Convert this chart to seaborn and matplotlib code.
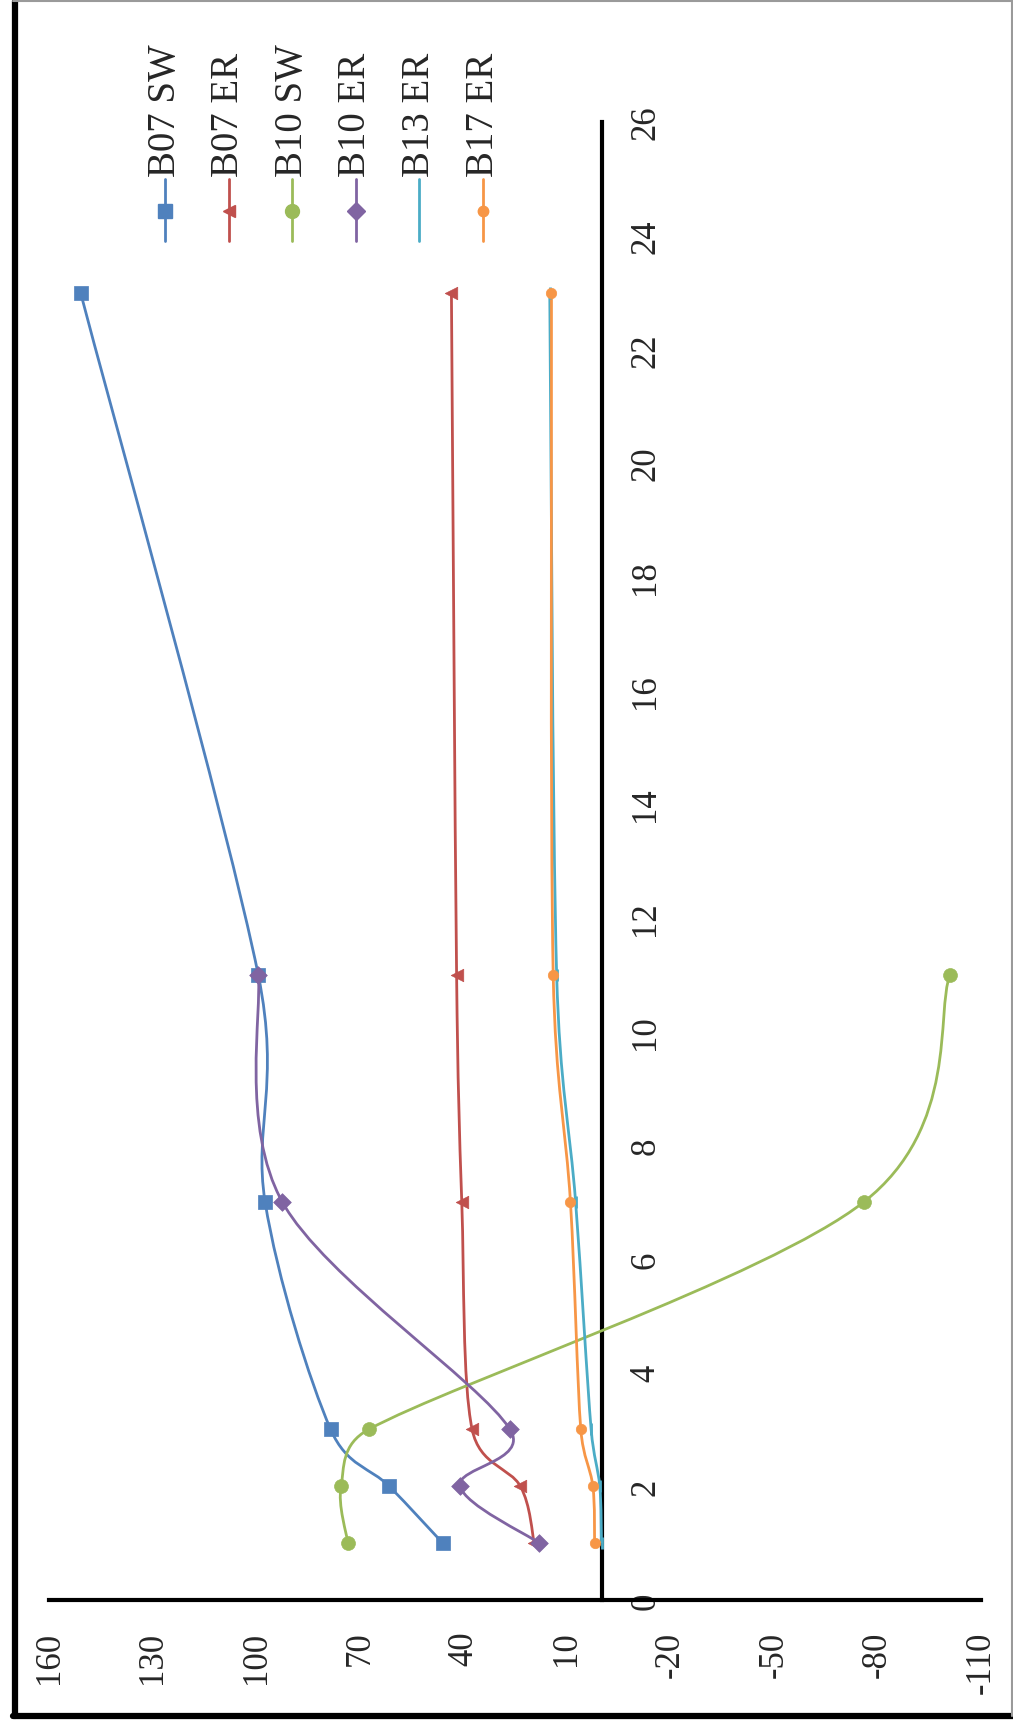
import numpy as np
import pandas as pd
import matplotlib
matplotlib.use('Agg')
import matplotlib.pyplot as plt
import seaborn as sns
from matplotlib.path import Path
from matplotlib.patches import PathPatch
from matplotlib.lines import Line2D

# chart is drawn turned by 90 degrees: distance runs up the page, values run right-to-left
positions_full = [1, 2, 3, 7, 11, 23]
positions_short = [1, 2, 3, 7, 11]

b07_sw = [46, 61.5, 78.5, 97.5, 99.5, 151]
b07_er = [19.5, 23.5, 37.5, 40.5, 42, 43.5]
b10_sw = [73.5, 75.5, 67.5, -76, -101]
b10_er = [18, 41, 26.5, 92.5, 99.5]
b13_er = [0, 0.5, 3, 7.5, 13, 15]
b17_er = [2, 2.5, 6, 9, 14, 14.5]

series_names = ['B07 SW', 'B07 ER', 'B10 SW', 'B10 ER', 'B13 ER', 'B17 ER']
value_ticks = [160, 130, 100, 70, 40, 10, -20, -50, -80, -110]
position_ticks = list(range(0, 27, 2))

series = [
    (b07_sw, positions_full),
    (b07_er, positions_full),
    (b10_sw, positions_short),
    (b10_er, positions_short),
    (b13_er, positions_full),
    (b17_er, positions_full),
]
colors = ['#4F81BD', '#C0504D', '#9BBB59', '#8064A2', '#4BACC6', '#F79646']
markers = ['s', '<', 'o', 'D', '|', 'o']
msizes = [10, 9, 10, 9, 8, 7.5]

W, H = 1013, 1733
XLIM = (160, -110)
YLIM = (0, 26)


def smooth_path(ax, xs, ys):
    # excel-style smoothed line, control points worked out in screen space
    pts = ax.transData.transform(np.column_stack([xs, ys]).astype(float))
    n = len(pts)
    verts = [pts[0]]
    codes = [Path.MOVETO]
    for i in range(n - 1):
        p0 = pts[max(i - 1, 0)]
        p1 = pts[i]
        p2 = pts[i + 1]
        p3 = pts[min(i + 2, n - 1)]
        d12 = np.hypot(*(p2 - p1))
        d02 = np.hypot(*(p2 - p0))
        d13 = np.hypot(*(p3 - p1))
        f1 = 1 / 6
        f2 = 1 / 6
        if d02 / 6 >= d12 / 2 and d02 > 0:
            f1 = d12 / (2 * d02)
        if d13 / 6 >= d12 / 2 and d13 > 0:
            f2 = d12 / (2 * d13)
        verts += [p1 + f1 * (p2 - p0), p2 - f2 * (p3 - p1), p2]
        codes += [Path.CURVE4] * 3
    verts = ax.transData.inverted().transform(np.array(verts))
    return Path(verts, codes)


sns.set_style('white')
plt.rcParams['font.family'] = ['Liberation Serif', 'DejaVu Serif']
plt.rcParams['axes.unicode_minus'] = False

fig = plt.figure(figsize=(W / 100, H / 100), dpi=100)
ax = fig.add_axes([49.5 / W, 1 - 1601 / H, 931.5 / W, 1478 / H])
ax.set_xlim(*XLIM)
ax.set_ylim(*YLIM)

for (vals, pos), name, c, m, ms in zip(series, series_names, colors, markers, msizes):
    ax.add_patch(PathPatch(smooth_path(ax, vals, pos), fill=False, edgecolor=c, lw=2.0, zorder=3))
    df = pd.DataFrame({'value': vals, 'distance': pos})
    if m == '|':
        ax.plot(df['value'], df['distance'], linestyle='none', marker=m, markersize=ms,
                markeredgewidth=2, color=c, zorder=4)
    else:
        sns.scatterplot(data=df, x='value', y='distance', marker=m, s=ms ** 2, color=c,
                        edgecolor=c, linewidth=0.5, ax=ax, zorder=4)

ax.set_xlim(*XLIM)
ax.set_ylim(*YLIM)
ax.set_xticks(value_ticks, labels=[str(v) for v in value_ticks])
ax.set_yticks(position_ticks, labels=[str(p) for p in position_ticks])
ax.set_xlabel('')
ax.set_ylabel('')
ax.grid(False)

for s in ['top', 'left']:
    ax.spines[s].set_visible(False)
ax.yaxis.tick_right()
ax.spines['right'].set_position(('data', 0))
for s in ['right', 'bottom']:
    ax.spines[s].set_color('black')
    ax.spines[s].set_linewidth(3)

ax.tick_params(axis='x', length=0, pad=22, labelsize=25, labelrotation=90)
ax.tick_params(axis='y', length=0, pad=20, labelsize=25, labelrotation=90)
for lbl in ax.get_yticklabels():
    lbl.set_va('center')


def fx(px):
    return px / W


def fy(py):
    return 1 - py / H


# legend, turned like the chart
for i, (name, c, m, ms) in enumerate(zip(series_names, colors, markers, msizes)):
    xc = 165 + 63.6 * i
    fig.add_artist(Line2D([fx(xc), fx(xc)], [fy(180), fy(242)], color=c, lw=2.0,
                          transform=fig.transFigure))
    if m != '|':
        fig.add_artist(Line2D([fx(xc)], [fy(212)], marker=m, markersize=ms, color=c,
                              linestyle='none', transform=fig.transFigure))
    fig.text(fx(xc), fy(177), name, rotation=90, ha='center', va='bottom', fontsize=28)

# chart border
fig.add_artist(Line2D([fx(15), fx(15)], [fy(2), fy(1717)], color='black', lw=4.5,
                      transform=fig.transFigure))
fig.add_artist(Line2D([fx(13), fx(W)], [fy(1717), fy(1717)], color='black', lw=4.5,
                      transform=fig.transFigure))
fig.add_artist(Line2D([fx(13), fx(W)], [fy(1.5), fy(1.5)], color='#9a9a9a', lw=1.5,
                      transform=fig.transFigure))
fig.add_artist(Line2D([fx(1011.5), fx(1011.5)], [fy(0), fy(1717)], color='#9a9a9a', lw=1.5,
                      transform=fig.transFigure))

plt.savefig('out.png', dpi=100)
plt.close()
